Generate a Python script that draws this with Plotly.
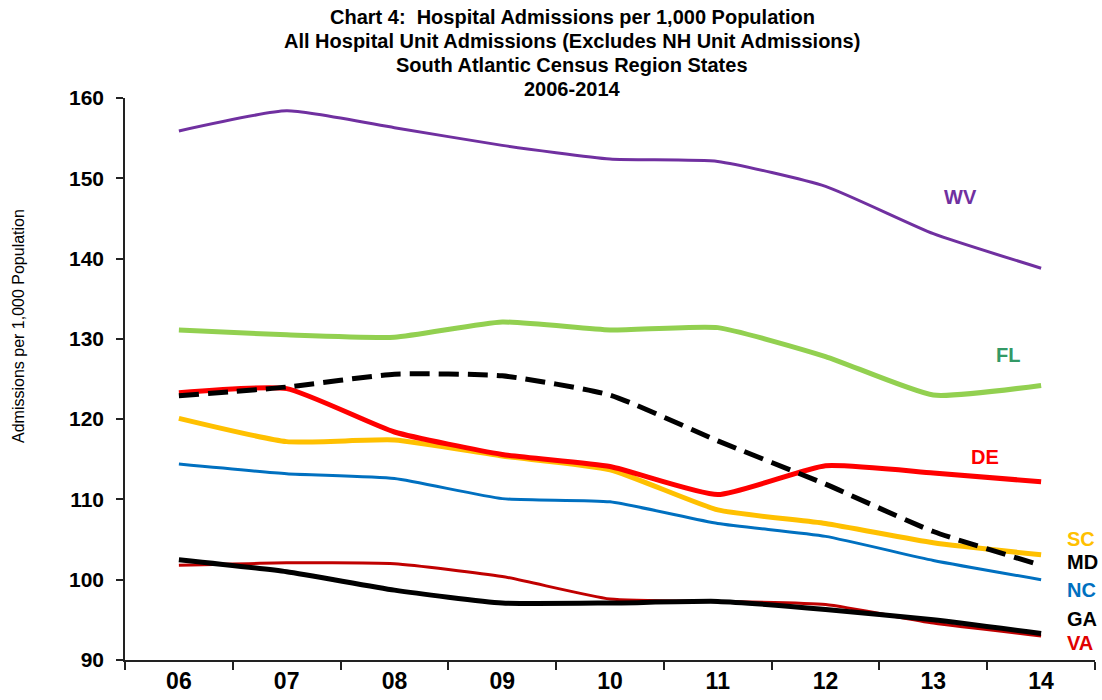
import plotly.graph_objects as go

years = ["06", "07", "08", "09", "10", "11", "12", "13", "14"]

wv = [155.9, 158.4, 156.3, 154.1, 152.4, 152.1, 149.0, 143.1, 138.8]
fl = [131.1, 130.5, 130.2, 132.1, 131.1, 131.4, 127.8, 123.0, 124.2]
de = [123.3, 123.8, 118.4, 115.6, 114.1, 110.6, 114.2, 113.3, 112.2]
md = [122.9, 124.0, 125.6, 125.4, 123.0, 117.3, 111.9, 106.0, 101.8]
sc = [120.1, 117.2, 117.4, 115.4, 113.7, 108.7, 107.0, 104.6, 103.1]
nc = [114.4, 113.2, 112.6, 110.1, 109.7, 107.0, 105.4, 102.4, 100.0]
ga = [102.5, 101.0, 98.7, 97.1, 97.1, 97.3, 96.3, 95.0, 93.3]
va = [101.8, 102.1, 102.0, 100.4, 97.6, 97.3, 96.9, 94.6, 93.0]

title_lines = [
    "Chart 4:  Hospital Admissions per 1,000 Population",
    "All Hospital Unit Admissions (Excludes NH Unit Admissions)",
    "South Atlantic Census Region States",
    "2006-2014",
]
y_title = "Admissions per 1,000 Population"

series = [
    ("VA", va, "#C00000", 3, "solid"),
    ("NC", nc, "#0070C0", 3, "solid"),
    ("SC", sc, "#FFC000", 5, "solid"),
    ("DE", de, "#FF0000", 5, "solid"),
    ("GA", ga, "#000000", 5, "solid"),
    ("MD", md, "#000000", 5, "20px,9px"),
    ("FL", fl, "#92D050", 5, "solid"),
    ("WV", wv, "#7030A0", 3, "solid"),
]

FONT = "Liberation Sans, Arial"
W, H = 1102, 700
ML, MR, MT, MB = 125, 7, 98, 40
PW, PH = W - ML - MR, H - MT - MB


def px_x(px):
    return (px - ML) / PW


def px_y(py):
    return (H - MB - py) / PH


fig = go.Figure()
for name, vals, color, width, dash in series:
    fig.add_trace(go.Scatter(
        x=years, y=vals, mode="lines", name=name,
        line=dict(color=color, width=width, dash=dash, shape="spline", smoothing=0.5),
        showlegend=False,
    ))

labels = [
    ("WV", 960, 147.7, "#7030A0", "center"),
    ("FL", 1008, 128.0, "#339966", "center"),
    ("DE", 985, 115.3, "#FF0000", "center"),
    ("SC", 1065, 105.1, "#FFC000", "left"),
    ("MD", 1065, 102.2, "#000000", "left"),
    ("NC", 1065, 98.7, "#0070C0", "left"),
    ("GA", 1065, 95.1, "#000000", "left"),
    ("VA", 1065, 92.1, "#E00000", "left"),
]
annotations = []
for txt, x, y, c, anc in labels:
    annotations.append(dict(
        text="<b>%s</b>" % txt, x=px_x(x), y=y, xref="paper", yref="y",
        xanchor=anc, yanchor="middle", showarrow=False,
        font=dict(family=FONT, size=20, color=c),
    ))

title_y = [17, 41, 65, 89]
for t, ty in zip(title_lines, title_y):
    annotations.append(dict(
        text="<b>%s</b>" % t, x=px_x(572), y=px_y(ty), xref="paper", yref="paper",
        xanchor="center", yanchor="middle", showarrow=False,
        font=dict(family=FONT, size=20, color="#000000"),
    ))
annotations.append(dict(
    text=y_title, x=px_x(18), y=px_y(326), xref="paper", yref="paper",
    xanchor="center", yanchor="middle", textangle=-90, showarrow=False,
    font=dict(family=FONT, size=16, color="#000000"),
))

fig.update_layout(
    width=W, height=H,
    margin=dict(l=ML, r=MR, t=MT, b=MB),
    paper_bgcolor="white", plot_bgcolor="white",
    annotations=annotations,
    xaxis=dict(
        type="category", range=[-0.5, 8.5], tickson="boundaries",
        showline=True, linecolor="#222222", linewidth=1.5,
        ticks="outside", ticklen=8, tickcolor="#222222", tickwidth=1.5,
        showgrid=False, zeroline=False,
        tickfont=dict(family=FONT, size=23, color="#000000"),
        tickprefix="<b>", ticksuffix="</b>",
    ),
    yaxis=dict(
        range=[90, 160], dtick=10, tick0=90,
        showline=True, linecolor="#222222", linewidth=1.5,
        ticks="outside", ticklen=7, tickcolor="#222222", tickwidth=1.5,
        showgrid=False, zeroline=False,
        tickfont=dict(family=FONT, size=21, color="#000000"),
        tickprefix="<b>", ticksuffix="</b>",
        ticklabelstandoff=8,
    ),
)

fig.write_html(
    "out.html",
    config={"displayModeBar": False},
    post_script="document.body.style.margin='0';document.body.style.overflow='hidden';",
)
